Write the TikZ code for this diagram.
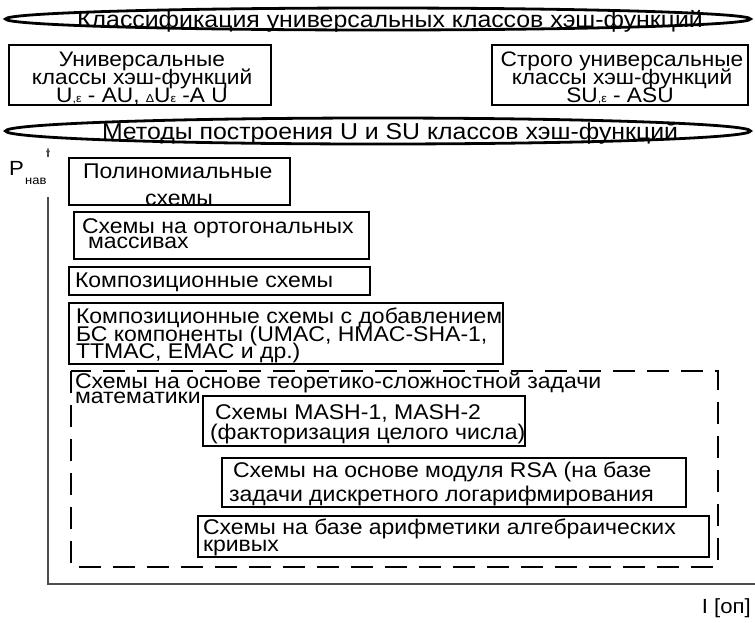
\documentclass[tikz,border=0pt]{standalone}
\usepackage{fontspec}
\setmainfont{Liberation Sans}[FakeStretch=1.08]
\usetikzlibrary{shapes.geometric,arrows.meta}
\begin{document}
\begin{tikzpicture}[x=1pt,y=-1pt,
  lens/.style={draw, ellipse, line width=2.8pt, inner sep=0pt, outer sep=0pt},
  bx/.style={draw, line width=2.6pt, inner sep=0pt, outer sep=0pt, anchor=north west},
  ln/.style={inner sep=0pt, outer sep=0pt, anchor=base west, font=\fontsize{21.3}{21.3}\selectfont},
  cln/.style={inner sep=0pt, outer sep=0pt, anchor=base, font=\fontsize{21}{21}\selectfont},
  big/.style={inner sep=0pt, outer sep=0pt, anchor=base, font=\fontsize{23}{23}\selectfont},
  axis/.style={draw=black!70, line width=1.3pt}
]
\useasboundingbox (0,0) rectangle (755,622);
\newcommand{\sm}[1]{{\fontsize{11.5}{11.5}\selectfont #1}}
% top ellipse
\node[lens, minimum width=745pt, minimum height=22pt] (e1) at (378,19) {};
\node[big] (e1t) at (390,27) {Классификация универсальных классов хэш-функций};
% two class boxes
\node[bx, minimum width=262pt, minimum height=60pt] (bl) at (9,45) {};
\node[cln] (bl1) at (142,66) {Универсальные};
\node[cln] (bl2) at (142,84) {классы хэш-функций};
\node[cln] (bl3) at (142,102) {U\sm{,ε} - AU, \sm{Δ}U\sm{ε} -A U};
\node[bx, minimum width=256pt, minimum height=60pt] (br) at (492,45) {};
\node[cln] (br1) at (622,66) {Строго универсальные};
\node[cln] (br2) at (622,84) {классы хэш-функций};
\node[cln] (br3) at (620,102) {SU\sm{,ε} - ASU};
% second ellipse
\node[lens, minimum width=745pt, minimum height=26pt] (e2) at (378,131) {};
\node[big] (e2t) at (390,139) {Методы построения U и SU классов хэш-функций};
% axes
\coordinate (ytip) at (48,147);
\coordinate (ystem) at (48,157);
\coordinate (ytop) at (48,197);
\coordinate (origin) at (48,584);
\coordinate (xend) at (755,584);
\draw[axis, -{Latex[length=5pt,width=4pt]}] (ystem) -- (ytip);
\draw[axis] (ytop) -- (origin) -- (xend);
\node[inner sep=0pt, anchor=base west, font=\fontsize{20.5}{20.5}\selectfont] (pl) at (9,175) {P};
\node[inner sep=0pt, anchor=base west, font=\fontsize{12}{12}\selectfont] (pls) at (25,184) {нав};
\node[inner sep=0pt, anchor=base east, font=\fontsize{20.5}{20.5}\selectfont] (il) at (751,613) {I [оп]};
% method boxes
\node[bx, minimum width=221pt, minimum height=47pt] (b1) at (69,158) {};
\node[ln] (b1a) at (83,178) {Полиномиальные};
\node[ln] (b1b) at (145,205) {схемы};
\node[bx, minimum width=295pt, minimum height=47pt] (b2) at (74,212) {};
\node[ln] (b2a) at (82,233) {Схемы на ортогональных};
\node[ln] (b2b) at (88,248) {массивах};
\node[bx, minimum width=301pt, minimum height=28pt] (b3) at (69,267) {};
\node[ln] (b3a) at (75,287) {Композиционные схемы};
\node[bx, minimum width=434pt, minimum height=61pt] (b4) at (69,303) {};
\node[ln] (b4a) at (76,323) {Композиционные схемы с добавлением};
\node[ln] (b4b) at (76,341) {БС компоненты (UMAC, HMAC-SHA-1,};
\node[ln] (b4c) at (76,358) {TTMAC, EMAC и др.)};
% dashed region
\draw[line width=1.1pt, dash pattern=on 22pt off 12pt] (71,371) rectangle (718,567);
\node[ln] (dt1) at (75,388) {Схемы на основе теоретико-сложностной задачи};
\node[ln] (dt2) at (75,403) {математики};
\node[bx, minimum width=322pt, minimum height=50pt] (b5) at (203,396) {};
\node[ln] (b5a) at (215,419) {Схемы MASH-1, MASH-2};
\node[ln] (b5b) at (210,439) {(факторизация целого числа)};
\node[bx, minimum width=464pt, minimum height=49pt] (b6) at (222,458) {};
\node[ln] (b6a) at (233,477) {Схемы на основе модуля RSA (на базе};
\node[ln] (b6b) at (229,501) {задачи дискретного логарифмирования};
\node[bx, minimum width=511pt, minimum height=41pt] (b7) at (198,516) {};
\node[ln] (b7a) at (203,534) {Схемы на базе арифметики алгебраических};
\node[ln] (b7b) at (203,551) {кривых};
\end{tikzpicture}
\end{document}
